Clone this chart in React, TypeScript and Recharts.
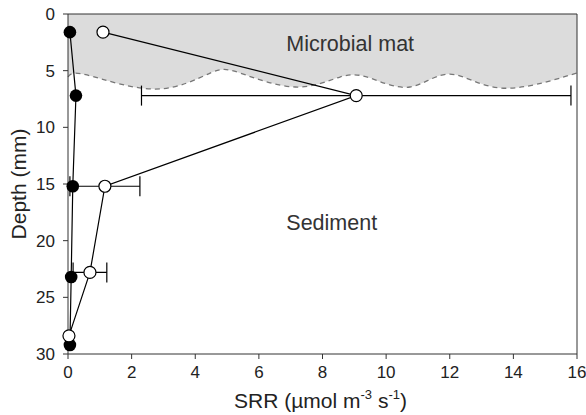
import { ComposedChart, XAxis, YAxis, Scatter, Area, ErrorBar, ReferenceLine, ReferenceDot } from "recharts";

// SRR profile, depth in mm
const FILLED_SRR = [0.06, 0.25, 0.15, 0.1, 0.06];
const FILLED_DEPTH = [1.6, 7.2, 15.2, 23.2, 29.2];

const OPEN_SRR = [1.1, 9.06, 1.16, 0.69, 0.03];
const OPEN_DEPTH = [1.6, 7.2, 15.2, 22.8, 28.4];
const OPEN_ERR = [0, 6.75, 1.1, 0.53, 0];

// wavy boundary of the mat
const MAT_SRR = [0, 0.6, 2.74, 4.47, 5.41, 7.14, 8.55, 9.5, 10.75, 12.0, 13.6, 16];
const MAT_DEPTH = [5.56, 5.38, 6.62, 5.21, 5.21, 6.44, 5.56, 5.65, 6.44, 5.3, 6.53, 5.2];

const X_TICKS = [0, 2, 4, 6, 8, 10, 12, 14, 16];
const Y_TICKS = [0, 5, 10, 15, 20, 25, 30];

const filled = FILLED_SRR.map((x, i) => ({ x, y: FILLED_DEPTH[i] }));
const open = OPEN_SRR.map((x, i) => ({ x, y: OPEN_DEPTH[i], err: OPEN_ERR[i] }));
const mat = MAT_SRR.map((x, i) => ({ x, y: MAT_DEPTH[i] }));

const FONT = "Liberation Sans, Arial, sans-serif";
const INK = "#222";

const FilledDot = (props: any) => <circle cx={props.cx} cy={props.cy} r={6.3} fill="#000" />;
const OpenDot = (props: any) => (
  <circle cx={props.cx} cy={props.cy} r={6} fill="#fff" stroke="#000" strokeWidth={1.2} />
);

const SrrLabel = (props: any) => {
  const vb = props.viewBox;
  const cx = vb.x + vb.width / 2;
  return (
    <text x={cx - 2} y={408} textAnchor="middle" fontSize={21} fontFamily={FONT} fill={INK}>
      SRR (µmol m
      <tspan dy={-9} fontSize={13}>-3</tspan>
      <tspan dy={9}> s</tspan>
      <tspan dy={-9} fontSize={13}>-1</tspan>
      <tspan dy={9}>)</tspan>
    </text>
  );
};

export default function App() {
  return (
    <div style={{ position: "absolute", left: 0, top: 0, background: "#fff" }}>
      <ComposedChart width={586} height={415} margin={{ top: 14, right: 9, bottom: 0, left: 0 }}>
        <XAxis
          type="number"
          dataKey="x"
          domain={[0, 16]}
          ticks={X_TICKS}
          height={61}
          stroke="#333"
          tickSize={5}
          tickMargin={7}
          tick={{ fill: INK, fontSize: 17, fontFamily: FONT }}
          label={{ content: SrrLabel }}
        />
        <YAxis
          type="number"
          dataKey="y"
          domain={[0, 30]}
          reversed
          ticks={Y_TICKS}
          width={68}
          stroke="#333"
          tickSize={5}
          tickMargin={8}
          tick={{ fill: INK, fontSize: 17, fontFamily: FONT }}
          label={{
            value: "Depth (mm)",
            angle: -90,
            position: "insideLeft",
            offset: 19,
            style: { fontSize: 21, fontFamily: FONT, fill: INK, textAnchor: "middle" },
          }}
        />
        <Area
          data={mat}
          dataKey="y"
          type="natural"
          baseValue={0}
          fill="#dcdcdc"
          fillOpacity={1}
          stroke="#777"
          strokeWidth={1.3}
          strokeDasharray="5 4"
          isAnimationActive={false}
        />
        <ReferenceLine y={0} stroke="#333" />
        <ReferenceLine x={16} stroke="#333" />
        <ReferenceDot
          x={8.87}
          y={2.6}
          r={0}
          stroke="none"
          label={{ value: "Microbial mat", position: "center", fontSize: 21.5, fontFamily: FONT, fill: "#333" }}
        />
        <ReferenceDot
          x={8.29}
          y={18.35}
          r={0}
          stroke="none"
          label={{ value: "Sediment", position: "center", fontSize: 21.5, fontFamily: FONT, fill: "#333" }}
        />
        <Scatter
          data={filled}
          line={{ stroke: "#000", strokeWidth: 1.2 }}
          lineType="joint"
          shape={FilledDot}
          isAnimationActive={false}
        />
        <Scatter
          data={open}
          line={{ stroke: "#000", strokeWidth: 1.2 }}
          lineType="joint"
          shape={OpenDot}
          isAnimationActive={false}
        >
          <ErrorBar dataKey="err" direction="x" width={10} stroke="#000" strokeWidth={1.2} />
        </Scatter>
      </ComposedChart>
    </div>
  );
}
